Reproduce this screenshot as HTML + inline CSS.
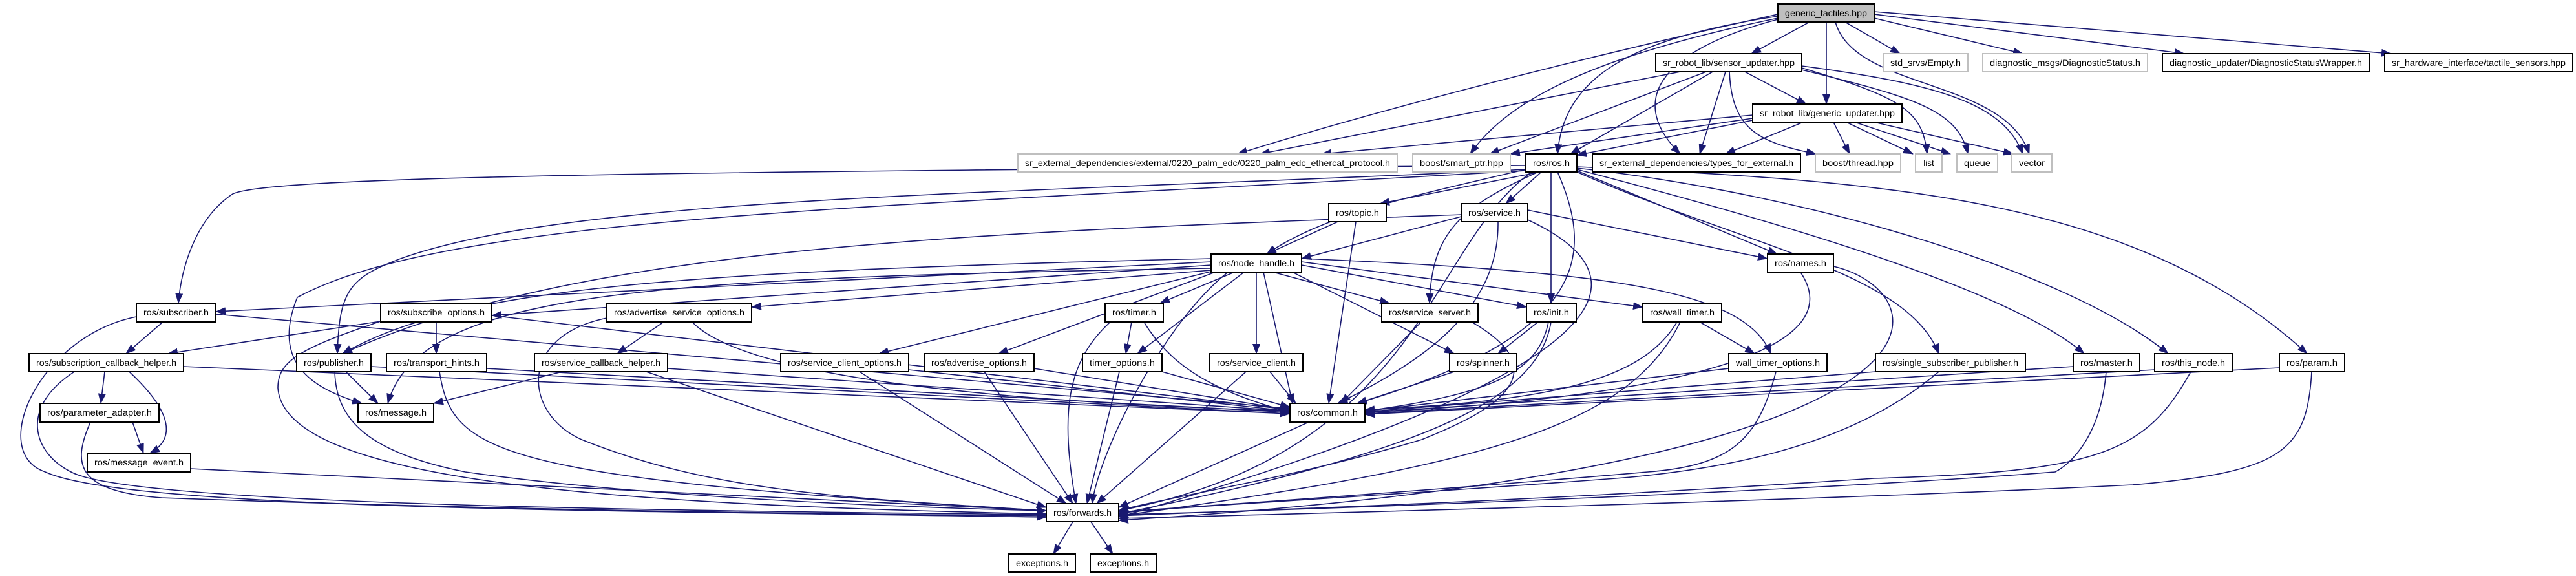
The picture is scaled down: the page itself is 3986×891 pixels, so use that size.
<!DOCTYPE html>
<html><head><meta charset="utf-8"><style>
html,body{margin:0;padding:0;background:#fff;}
svg{display:block;}
text{font-family:"Liberation Sans","DejaVu Sans",sans-serif;font-size:13.5px;fill:#000;}
</style></head><body>
<svg width="3986" height="891" viewBox="0 0 3986 891" xmlns="http://www.w3.org/2000/svg">
<defs><marker id="a" markerUnits="userSpaceOnUse" markerWidth="16" markerHeight="12" refX="15" refY="6" orient="auto"><path d="M0,0 L16,6 L0,12 Z" fill="#191970"/></marker></defs>
<g fill="none" stroke="#191970" stroke-width="1.6" marker-end="url(#a)">
<path d="M2800 34 L2710 83"/><path d="M2826 34 L2826 161"/><path d="M2855 34 L2940 83"/><path d="M2900 28 L3130 83"/><path d="M2900 22 L3380 83"/><path d="M2900 18 L3700 83"/>
<path d="M2840 34 C2870 140,3100 120,3140 238"/><path d="M2751 25 C2520 60,2420 120,2410 238"/><path d="M2751 28 C2450 90,2330 160,2275 238"/><path d="M2751 22 C2400 100,2100 180,1915 238"/><path d="M2751 30 C2560 80,2520 160,2600 238"/>
<path d="M2700 111 L2795 161"/><path d="M2600 111 L1950 238"/><path d="M2640 111 L2305 238"/><path d="M2650 111 L2430 238"/><path d="M2670 111 L2630 238"/>
<path d="M2676 111 C2680 200,2720 220,2810 238"/><path d="M2788 105 C2940 150,2975 170,2982 238"/><path d="M2788 108 C2960 150,3030 170,3045 238"/><path d="M2788 102 C3000 130,3100 160,3130 238"/>
<path d="M2712 178 L2045 238"/><path d="M2712 183 L2337 238"/><path d="M2712 186 L2440 240"/><path d="M2790 189 L2670 238"/><path d="M2837 189 L2862 238"/><path d="M2857 189 L2960 238"/><path d="M2870 189 L3018 238"/><path d="M2900 189 L3115 238"/>
<path d="M2361 256 C1200 265,420 270,360 300 C300 340,280 420,276 469"/>
<path d="M2361 262 C1600 300,900 300,620 400 C540 430,525 450,522 547"/>
<path d="M2361 264 C1400 320,700 330,460 460 C420 560,480 600,560 624"/>
<path d="M2383 266 L2135 315"/><path d="M2385 266 L2330 315"/><path d="M2361 262 C2200 300,2050 330,1960 393"/>
<path d="M2380 266 C2260 320,2215 360,2212 469"/><path d="M2400 266 L2400 469"/>
<path d="M2410 266 C2470 400,2450 520,2100 624"/><path d="M2370 266 C2210 380,2200 700,1731 790"/>
<path d="M2440 264 L2750 393"/><path d="M2440 266 C2700 380,2950 420,3000 547"/><path d="M2440 262 C2700 330,3100 440,3225 547"/><path d="M2440 260 C2800 300,3200 420,3355 547"/><path d="M2440 258 C2900 280,3300 300,3570 547"/>
<path d="M2070 343 L1960 393"/><path d="M2098 343 L2056 624"/>
<path d="M2261 335 L2014 400"/><path d="M2364 325 L2735 400"/><path d="M2318 343 C2320 480,2200 560,2070 624"/><path d="M2364 340 C2600 450,2420 600,1731 800"/><path d="M2261 332 C1500 360,900 380,530 547"/>
<path d="M1874 405 L334 482"/><path d="M1874 410 L761 488"/><path d="M1874 418 L1163 475"/><path d="M1874 400 C1000 420,700 450,530 547"/><path d="M1874 420 L1360 547"/><path d="M1880 421 L1545 547"/><path d="M1910 421 L1795 469"/><path d="M1925 421 L1760 547"/><path d="M1944 421 L1944 547"/><path d="M1970 421 L2150 469"/><path d="M2014 410 L2362 475"/><path d="M2000 421 L2250 547"/><path d="M2014 405 L2542 475"/><path d="M2014 400 C2500 420,2700 450,2740 547"/><path d="M1955 421 L2000 624"/><path d="M1900 421 C1800 500,1700 700,1690 779"/><path d="M1874 415 C1000 430,650 450,600 624"/>
<path d="M2786 421 C2880 560,2500 620,2112 638"/><path d="M2837 412 C3000 450,3100 720,1731 805"/>
<path d="M252 498 L195 547"/><path d="M334 486 L1996 632"/><path d="M211 490 C60 520,-20 700,70 730 C200 790,1000 790,1619 800"/>
<path d="M589 497 L260 547"/><path d="M675 498 L675 547"/><path d="M761 488 L1996 634"/><path d="M589 497 C460 540,430 560,430 600 C440 740,900 780,1619 795"/>
<path d="M1027 498 L955 547"/><path d="M1071 498 C1150 580,1500 620,1996 636"/><path d="M939 492 C800 520,810 640,900 680 C1100 760,1300 770,1619 790"/>
<path d="M1751 498 L1742 547"/><path d="M1770 498 C1820 580,1900 610,1996 638"/><path d="M1718 498 C1650 560,1640 640,1665 779"/>
<path d="M2199 498 L2075 624"/><path d="M2277 498 C2420 580,2300 640,2200 680 C2000 740,1800 770,1731 790"/>
<path d="M2380 498 L2318 547"/><path d="M2396 498 C2380 580,2300 610,2112 636"/><path d="M2400 498 C2380 620,2200 700,1731 795"/>
<path d="M2630 498 L2715 547"/><path d="M2595 498 C2540 590,2400 620,2112 634"/><path d="M2600 498 C2520 660,2300 720,1731 798"/>
<path d="M162 575 L156 624"/><path d="M200 575 C270 640,270 680,232 701"/><path d="M284 567 L1996 640"/><path d="M115 575 C30 630,50 700,110 730 C200 780,1000 790,1619 796"/>
<path d="M535 575 L585 624"/><path d="M574 567 L1996 640"/><path d="M518 575 C520 650,570 700,720 730 C1000 770,1400 785,1619 790"/>
<path d="M753 570 L1996 638"/><path d="M680 575 C700 700,760 740,1619 790"/>
<path d="M870 575 L671 624"/><path d="M1033 570 L1996 636"/><path d="M1000 575 L1619 785"/>
<path d="M1406 572 L1996 636"/><path d="M1330 575 L1650 779"/>
<path d="M1600 570 L1996 634"/><path d="M1523 575 L1660 779"/>
<path d="M1798 575 L1996 630"/><path d="M1732 575 L1682 779"/>
<path d="M1965 575 L2005 624"/><path d="M1928 575 L1697 779"/>
<path d="M2250 575 L2100 624"/>
<path d="M2675 570 L2112 636"/><path d="M2748 575 C2720 680,2680 720,2550 730 C2200 760,1900 780,1731 792"/>
<path d="M2902 575 L2112 637"/><path d="M3000 575 C2900 660,2750 720,2500 740 C2100 770,1800 785,1731 794"/>
<path d="M3208 567 L2112 638"/><path d="M3259 575 C3250 680,3200 720,3180 730 C2800 760,2000 790,1731 796"/>
<path d="M3334 572 L2112 640"/><path d="M3390 575 C3320 700,3250 730,2900 740 C2300 780,1900 790,1731 798"/>
<path d="M3527 569 L2112 641"/><path d="M3577 575 C3570 700,3530 730,3300 750 C2800 775,2000 795,1731 802"/>
<path d="M205 653 L222 701"/><path d="M140 653 C110 720,120 760,250 770 C800 790,1300 795,1619 798"/>
<path d="M295 725 L1619 790"/><path d="M2025 653 L1731 785"/>
<path d="M1660 807 L1630 857"/><path d="M1688 807 L1722 857"/>
</g>
<g stroke-width="2">
<rect x="2751" y="6" width="149" height="28" fill="#bfbfbf" stroke="#000"/><text x="2825.5" y="25" text-anchor="middle" textLength="127" lengthAdjust="spacingAndGlyphs">generic_tactiles.hpp</text>
<rect x="2562" y="83" width="226" height="28" fill="#fff" stroke="#000"/><text x="2675" y="102" text-anchor="middle" textLength="204" lengthAdjust="spacingAndGlyphs">sr_robot_lib/sensor_updater.hpp</text>
<rect x="2914" y="83" width="131" height="28" fill="#fff" stroke="#bfbfbf"/><text x="2979.5" y="102" text-anchor="middle" textLength="109" lengthAdjust="spacingAndGlyphs">std_srvs/Empty.h</text>
<rect x="3068" y="83" width="255" height="28" fill="#fff" stroke="#bfbfbf"/><text x="3195.5" y="102" text-anchor="middle" textLength="233" lengthAdjust="spacingAndGlyphs">diagnostic_msgs/DiagnosticStatus.h</text>
<rect x="3346" y="83" width="320" height="28" fill="#fff" stroke="#000"/><text x="3506" y="102" text-anchor="middle" textLength="298" lengthAdjust="spacingAndGlyphs">diagnostic_updater/DiagnosticStatusWrapper.h</text>
<rect x="3690" y="83" width="291" height="28" fill="#fff" stroke="#000"/><text x="3835.5" y="102" text-anchor="middle" textLength="269" lengthAdjust="spacingAndGlyphs">sr_hardware_interface/tactile_sensors.hpp</text>
<rect x="2712" y="161" width="231" height="28" fill="#fff" stroke="#000"/><text x="2827.5" y="180" text-anchor="middle" textLength="209" lengthAdjust="spacingAndGlyphs">sr_robot_lib/generic_updater.hpp</text>
<rect x="1575" y="238" width="587" height="28" fill="#fff" stroke="#bfbfbf"/><text x="1868.5" y="257" text-anchor="middle" textLength="565" lengthAdjust="spacingAndGlyphs">sr_external_dependencies/external/0220_palm_edc/0220_palm_edc_ethercat_protocol.h</text>
<rect x="2186" y="238" width="151" height="28" fill="#fff" stroke="#bfbfbf"/><text x="2261.5" y="257" text-anchor="middle" textLength="129" lengthAdjust="spacingAndGlyphs">boost/smart_ptr.hpp</text>
<rect x="2361" y="238" width="79" height="28" fill="#fff" stroke="#000"/><text x="2400.5" y="257" text-anchor="middle" textLength="57" lengthAdjust="spacingAndGlyphs">ros/ros.h</text>
<rect x="2464" y="238" width="322" height="28" fill="#fff" stroke="#000"/><text x="2625" y="257" text-anchor="middle" textLength="300" lengthAdjust="spacingAndGlyphs">sr_external_dependencies/types_for_external.h</text>
<rect x="2809" y="238" width="132" height="28" fill="#fff" stroke="#bfbfbf"/><text x="2875" y="257" text-anchor="middle" textLength="110" lengthAdjust="spacingAndGlyphs">boost/thread.hpp</text>
<rect x="2964" y="238" width="41" height="28" fill="#fff" stroke="#bfbfbf"/><text x="2984.5" y="257" text-anchor="middle">list</text>
<rect x="3028" y="238" width="63" height="28" fill="#fff" stroke="#bfbfbf"/><text x="3059.5" y="257" text-anchor="middle" textLength="41" lengthAdjust="spacingAndGlyphs">queue</text>
<rect x="3113" y="238" width="62" height="28" fill="#fff" stroke="#bfbfbf"/><text x="3144" y="257" text-anchor="middle" textLength="40" lengthAdjust="spacingAndGlyphs">vector</text>
<rect x="2056" y="315" width="89" height="28" fill="#fff" stroke="#000"/><text x="2100.5" y="334" text-anchor="middle" textLength="67" lengthAdjust="spacingAndGlyphs">ros/topic.h</text>
<rect x="2261" y="315" width="103" height="28" fill="#fff" stroke="#000"/><text x="2312.5" y="334" text-anchor="middle" textLength="81" lengthAdjust="spacingAndGlyphs">ros/service.h</text>
<rect x="1874" y="393" width="140" height="28" fill="#fff" stroke="#000"/><text x="1944" y="412" text-anchor="middle" textLength="118" lengthAdjust="spacingAndGlyphs">ros/node_handle.h</text>
<rect x="2735" y="393" width="102" height="28" fill="#fff" stroke="#000"/><text x="2786" y="412" text-anchor="middle" textLength="80" lengthAdjust="spacingAndGlyphs">ros/names.h</text>
<rect x="211" y="469" width="123" height="29" fill="#fff" stroke="#000"/><text x="272.5" y="488" text-anchor="middle" textLength="101" lengthAdjust="spacingAndGlyphs">ros/subscriber.h</text>
<rect x="589" y="469" width="172" height="29" fill="#fff" stroke="#000"/><text x="675" y="488" text-anchor="middle" textLength="150" lengthAdjust="spacingAndGlyphs">ros/subscribe_options.h</text>
<rect x="939" y="469" width="224" height="29" fill="#fff" stroke="#000"/><text x="1051" y="488" text-anchor="middle" textLength="202" lengthAdjust="spacingAndGlyphs">ros/advertise_service_options.h</text>
<rect x="1710" y="469" width="90" height="29" fill="#fff" stroke="#000"/><text x="1755" y="488" text-anchor="middle" textLength="68" lengthAdjust="spacingAndGlyphs">ros/timer.h</text>
<rect x="2138" y="469" width="149" height="29" fill="#fff" stroke="#000"/><text x="2212.5" y="488" text-anchor="middle" textLength="127" lengthAdjust="spacingAndGlyphs">ros/service_server.h</text>
<rect x="2362" y="469" width="77" height="29" fill="#fff" stroke="#000"/><text x="2400.5" y="488" text-anchor="middle" textLength="55" lengthAdjust="spacingAndGlyphs">ros/init.h</text>
<rect x="2542" y="469" width="122" height="29" fill="#fff" stroke="#000"/><text x="2603" y="488" text-anchor="middle" textLength="100" lengthAdjust="spacingAndGlyphs">ros/wall_timer.h</text>
<rect x="45" y="547" width="239" height="28" fill="#fff" stroke="#000"/><text x="164.5" y="566" text-anchor="middle" textLength="217" lengthAdjust="spacingAndGlyphs">ros/subscription_callback_helper.h</text>
<rect x="459" y="547" width="115" height="28" fill="#fff" stroke="#000"/><text x="516.5" y="566" text-anchor="middle" textLength="93" lengthAdjust="spacingAndGlyphs">ros/publisher.h</text>
<rect x="598" y="547" width="155" height="28" fill="#fff" stroke="#000"/><text x="675.5" y="566" text-anchor="middle" textLength="133" lengthAdjust="spacingAndGlyphs">ros/transport_hints.h</text>
<rect x="827" y="547" width="206" height="28" fill="#fff" stroke="#000"/><text x="930" y="566" text-anchor="middle" textLength="184" lengthAdjust="spacingAndGlyphs">ros/service_callback_helper.h</text>
<rect x="1208" y="547" width="198" height="28" fill="#fff" stroke="#000"/><text x="1307" y="566" text-anchor="middle" textLength="176" lengthAdjust="spacingAndGlyphs">ros/service_client_options.h</text>
<rect x="1430" y="547" width="170" height="28" fill="#fff" stroke="#000"/><text x="1515" y="566" text-anchor="middle" textLength="148" lengthAdjust="spacingAndGlyphs">ros/advertise_options.h</text>
<rect x="1675" y="547" width="123" height="28" fill="#fff" stroke="#000"/><text x="1736.5" y="566" text-anchor="middle" textLength="101" lengthAdjust="spacingAndGlyphs">timer_options.h</text>
<rect x="1872" y="547" width="144" height="28" fill="#fff" stroke="#000"/><text x="1944" y="566" text-anchor="middle" textLength="122" lengthAdjust="spacingAndGlyphs">ros/service_client.h</text>
<rect x="2243" y="547" width="104" height="28" fill="#fff" stroke="#000"/><text x="2295" y="566" text-anchor="middle" textLength="82" lengthAdjust="spacingAndGlyphs">ros/spinner.h</text>
<rect x="2675" y="547" width="152" height="28" fill="#fff" stroke="#000"/><text x="2751" y="566" text-anchor="middle" textLength="130" lengthAdjust="spacingAndGlyphs">wall_timer_options.h</text>
<rect x="2902" y="547" width="232" height="28" fill="#fff" stroke="#000"/><text x="3018" y="566" text-anchor="middle" textLength="210" lengthAdjust="spacingAndGlyphs">ros/single_subscriber_publisher.h</text>
<rect x="3208" y="547" width="103" height="28" fill="#fff" stroke="#000"/><text x="3259.5" y="566" text-anchor="middle" textLength="81" lengthAdjust="spacingAndGlyphs">ros/master.h</text>
<rect x="3334" y="547" width="120" height="28" fill="#fff" stroke="#000"/><text x="3394" y="566" text-anchor="middle" textLength="98" lengthAdjust="spacingAndGlyphs">ros/this_node.h</text>
<rect x="3527" y="547" width="101" height="28" fill="#fff" stroke="#000"/><text x="3577.5" y="566" text-anchor="middle" textLength="79" lengthAdjust="spacingAndGlyphs">ros/param.h</text>
<rect x="62" y="624" width="184" height="29" fill="#fff" stroke="#000"/><text x="154" y="643" text-anchor="middle" textLength="162" lengthAdjust="spacingAndGlyphs">ros/parameter_adapter.h</text>
<rect x="554" y="624" width="117" height="29" fill="#fff" stroke="#000"/><text x="612.5" y="643" text-anchor="middle" textLength="95" lengthAdjust="spacingAndGlyphs">ros/message.h</text>
<rect x="1996" y="624" width="116" height="29" fill="#fff" stroke="#000"/><text x="2054" y="643" text-anchor="middle" textLength="94" lengthAdjust="spacingAndGlyphs">ros/common.h</text>
<rect x="135" y="701" width="160" height="29" fill="#fff" stroke="#000"/><text x="215" y="720" text-anchor="middle" textLength="138" lengthAdjust="spacingAndGlyphs">ros/message_event.h</text>
<rect x="1619" y="779" width="112" height="28" fill="#fff" stroke="#000"/><text x="1675" y="798" text-anchor="middle" textLength="90" lengthAdjust="spacingAndGlyphs">ros/forwards.h</text>
<rect x="1561" y="857" width="103" height="28" fill="#fff" stroke="#000"/><text x="1612.5" y="876" text-anchor="middle" textLength="81" lengthAdjust="spacingAndGlyphs">exceptions.h</text>
<rect x="1687" y="857" width="102" height="28" fill="#fff" stroke="#000"/><text x="1738" y="876" text-anchor="middle" textLength="80" lengthAdjust="spacingAndGlyphs">exceptions.h</text>
</g>
</svg>
</body></html>
